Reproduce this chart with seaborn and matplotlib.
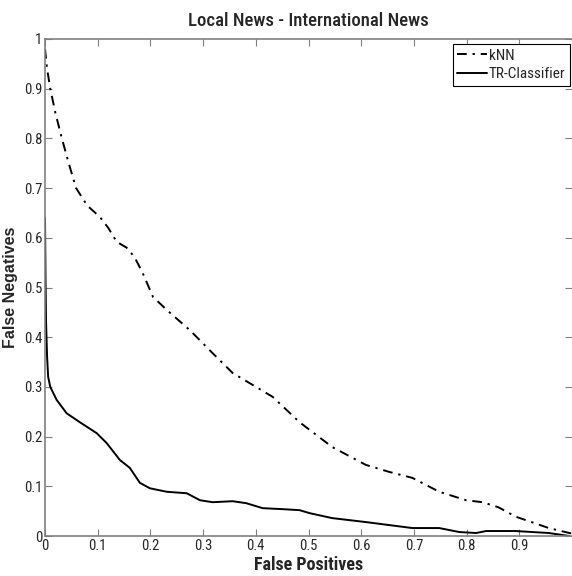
import numpy as np
import pandas as pd
import matplotlib
matplotlib.use('Agg')
import matplotlib.pyplot as plt
import seaborn as sns

# curve values
knn_fp = [0.0, 0.004, 0.01, 0.02, 0.032, 0.045, 0.059, 0.08, 0.104, 0.12, 0.136, 0.155,
          0.170, 0.185, 0.205, 0.231, 0.275, 0.318, 0.356, 0.394, 0.432, 0.483, 0.545,
          0.609, 0.653, 0.697, 0.748, 0.799, 0.830, 0.860, 0.893, 0.956, 0.995, 1.0]
knn_fn = [0.98, 0.94, 0.90, 0.85, 0.80, 0.75, 0.70, 0.665, 0.642, 0.62, 0.592, 0.58,
          0.561, 0.53, 0.481, 0.455, 0.414, 0.368, 0.328, 0.304, 0.280, 0.229, 0.179,
          0.143, 0.129, 0.117, 0.089, 0.072, 0.068, 0.058, 0.039, 0.016, 0.006, 0.005]

tr_fp = [0.0, 0.001, 0.002, 0.004, 0.006, 0.01, 0.022, 0.041, 0.066, 0.098, 0.117,
         0.142, 0.161, 0.18, 0.199, 0.231, 0.269, 0.294, 0.318, 0.356, 0.382, 0.413,
         0.451, 0.483, 0.502, 0.545, 0.609, 0.653, 0.697, 0.748, 0.786, 0.818, 0.837,
         0.893, 0.956, 0.995]
tr_fn = [0.64, 0.52, 0.43, 0.36, 0.32, 0.30, 0.274, 0.247, 0.229, 0.207, 0.187,
         0.153, 0.137, 0.107, 0.096, 0.089, 0.086, 0.072, 0.068, 0.070, 0.066, 0.056,
         0.054, 0.052, 0.046, 0.036, 0.028, 0.022, 0.016, 0.016, 0.008, 0.006, 0.010,
         0.010, 0.006, 0.0]

ticks = [0, 0.1, 0.2, 0.3, 0.4, 0.5, 0.6, 0.7, 0.8, 0.9, 1.0]
ytick_labels = ['0', '0.1', '0.2', '0.3', '0.4', '0.5', '0.6', '0.7', '0.8', '0.9', '1']
# the "1" on the x axis falls off the right edge in the original
xtick_labels = ['0', '0.1', '0.2', '0.3', '0.4', '0.5', '0.6', '0.7', '0.8', '0.9', '']

df = pd.concat([
    pd.DataFrame({'fp': knn_fp, 'fn': knn_fn, 'method': 'kNN'}),
    pd.DataFrame({'fp': tr_fp, 'fn': tr_fn, 'method': 'TR-Classifier'}),
], ignore_index=True)

sns.set_style('ticks')
plt.rcParams['font.family'] = ['Roboto Condensed', 'Liberation Sans', 'DejaVu Sans']

fig = plt.figure(figsize=(5.72, 5.76), dpi=100)
ax = fig.add_axes([45 / 572, 40 / 576, 527 / 572, 497 / 576])

sns.lineplot(data=df, x='fp', y='fn', style='method', color='black',
             dashes={'kNN': (5, 3, 1.2, 3), 'TR-Classifier': ''},
             estimator=None, sort=False, linewidth=1.4, ax=ax)

ax.set_xlim(0, 1)
ax.set_ylim(0, 1)
ax.set_xticks(ticks)
ax.set_xticklabels(xtick_labels)
ax.set_yticks(ticks)
ax.set_yticklabels(ytick_labels)
ax.tick_params(direction='in', length=5, width=0.8, color='#808080',
               labelsize=10.5, top=True, right=True, pad=2)
for s in ax.spines.values():
    s.set_color('#808080')
    s.set_linewidth(1.2)
    s.set_visible(True)
ax.spines['right'].set_visible(False)

ax.set_title('Local News - International News', fontsize=13.5, fontweight='medium', pad=9)
ax.set_xlabel('False Positives', fontsize=13, fontweight='bold', labelpad=2)
ax.set_ylabel('False Negatives', fontsize=11.5, fontweight='bold',
              family=['Liberation Sans', 'DejaVu Sans'])
ax.yaxis.set_label_coords(-0.052, 0.5)

leg = ax.legend(loc='upper right', bbox_to_anchor=(0.996, 0.99), fontsize=11,
                frameon=True, fancybox=False, framealpha=1, edgecolor='black',
                handlelength=1.9, handletextpad=0.15, borderpad=0.3,
                labelspacing=0.3, borderaxespad=0)
leg.get_frame().set_linewidth(0.8)

fig.savefig('out.png', dpi=100)
